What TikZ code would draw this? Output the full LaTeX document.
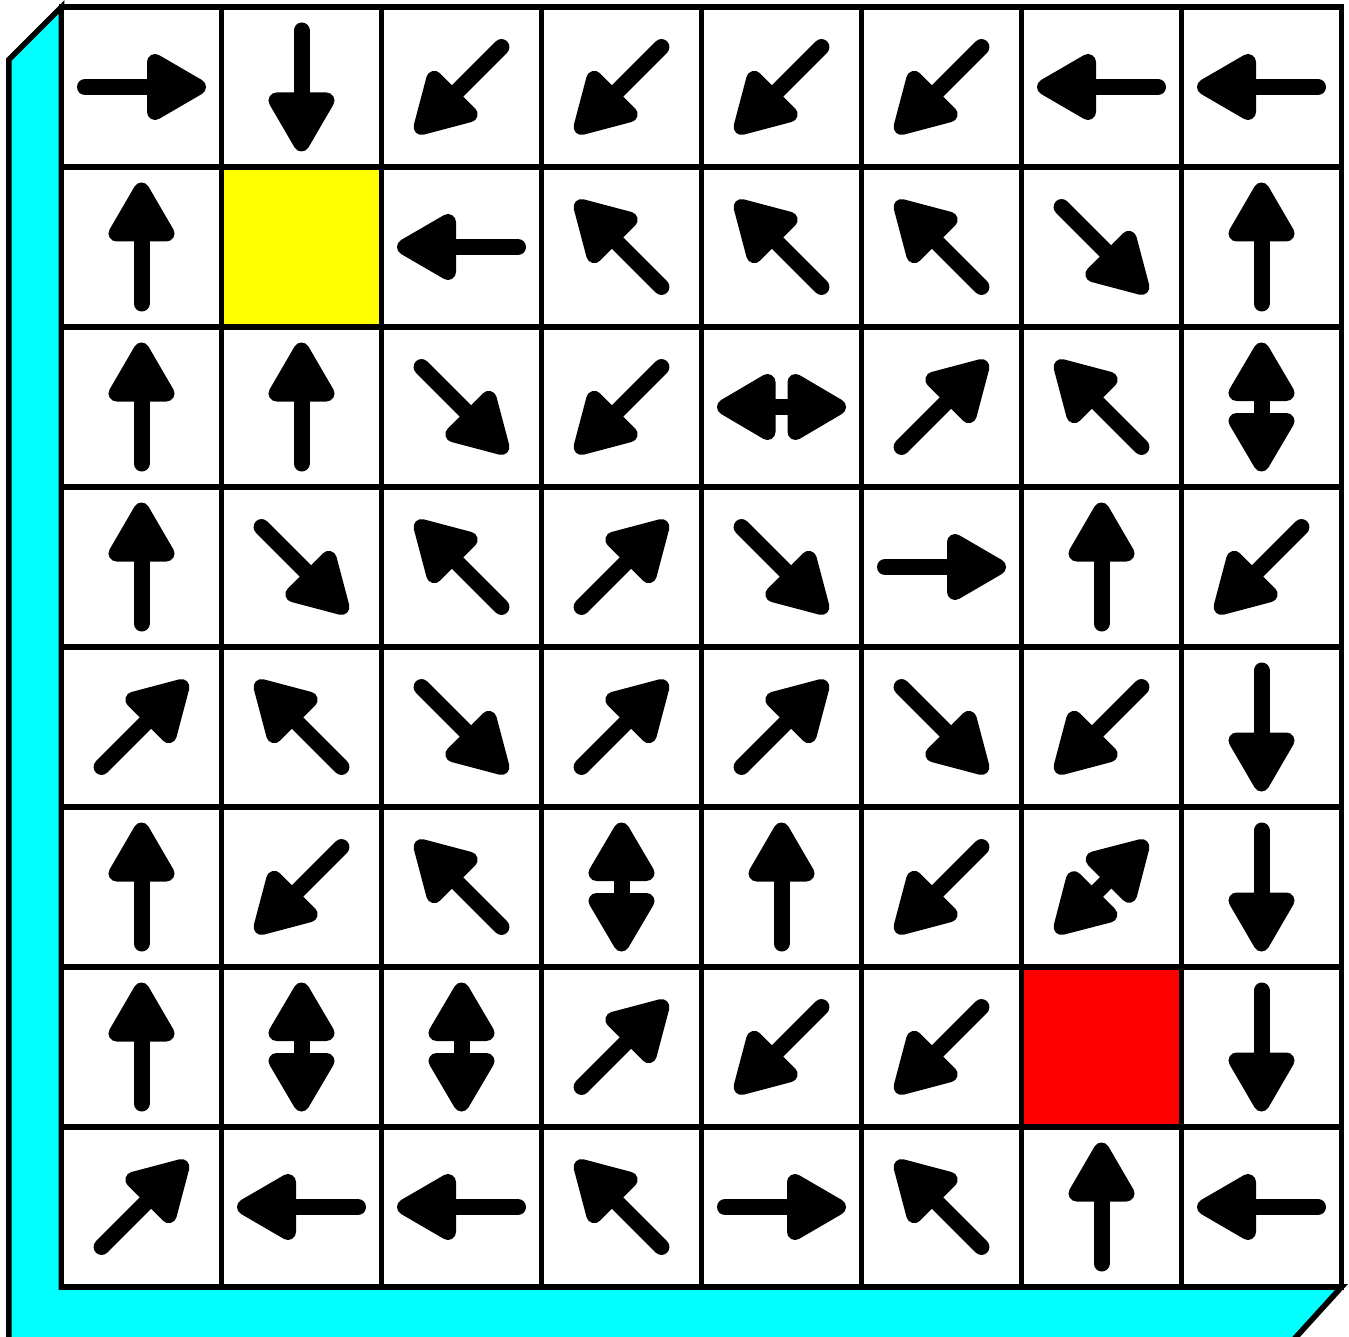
\documentclass[tikz,border=0pt]{standalone}
\definecolor{sidecyan}{RGB}{0,255,255}
\definecolor{cellyellow}{RGB}{255,255,0}
\definecolor{cellred}{RGB}{255,0,0}
\tikzset{
  gridline/.style={line width=5.6pt},
  arrowshaft/.style={line width=16pt, line cap=round},
  arrowtip/.style={fill=black, draw=black, line width=16pt, line join=round},
  pics/single/.style={code={
    \draw[arrowshaft] (-56.5,0) -- (14,0);
    \filldraw[arrowtip] (56.5,0) -- (13.5,25) -- (13.5,-25) -- cycle;
  }},
  pics/double/.style={code={
    \draw[arrowshaft] (-15,0) -- (15,0);
    \filldraw[arrowtip] (56.5,0) -- (14,25) -- (14,-25) -- cycle;
    \filldraw[arrowtip] (-56.5,0) -- (-14,25) -- (-14,-25) -- cycle;
  }},
}
\begin{document}
\begin{tikzpicture}[x=1pt,y=-1pt]
  \useasboundingbox (0,0) rectangle (1349,1337);
  \clip (0,0) rectangle (1349,1337);
  % 3D side faces
  \filldraw[fill=sidecyan, draw=black, line width=5.6pt, line join=miter]
    (61.5,7) -- (8.8,59.7) -- (8.8,1345) -- (1288.8,1345) -- (1341.5,1287) -- (61.5,1287) -- cycle;
  % board
  \fill[white] (61.5,7) rectangle (1341.5,1287);
  \fill[cellyellow] (221.5,167) rectangle (381.5,327);
  \fill[cellred] (1021.5,967) rectangle (1181.5,1127);
  \foreach \i in {0,...,8} {
    \draw[gridline] ({61.5+160*\i},7) -- ({61.5+160*\i},1287);
    \draw[gridline] (61.5,{7+160*\i}) -- (1341.5,{7+160*\i});
  }
  \draw[gridline] (61.5,7) rectangle (1341.5,1287);
  % arrows: angle, -1 = none, 1000+angle = double
  \foreach \r/\lst in {
    1/{0,270,225,225,225,225,180,180},
    2/{90,-1,180,135,135,135,315,90},
    3/{90,90,315,225,1000,45,135,1090},
    4/{90,315,135,45,315,0,90,225},
    5/{45,135,315,45,45,315,225,270},
    6/{90,225,135,1090,90,225,1045,270},
    7/{90,1090,1090,45,225,225,-1,270},
    8/{45,180,180,135,0,135,90,180}} {
    \foreach \a [count=\c] in \lst {
      \ifnum\a<0\relax\else
        \ifnum\a<1000\relax
          \pic[rotate=\a] at ({61.5+160*(\c-0.5)},{7+160*(\r-0.5)}) {single};
        \else
          \pgfmathtruncatemacro\b{\a-1000}
          \pic[rotate=\b] at ({61.5+160*(\c-0.5)},{7+160*(\r-0.5)}) {double};
        \fi
      \fi
    }
  }
\end{tikzpicture}
\end{document}
